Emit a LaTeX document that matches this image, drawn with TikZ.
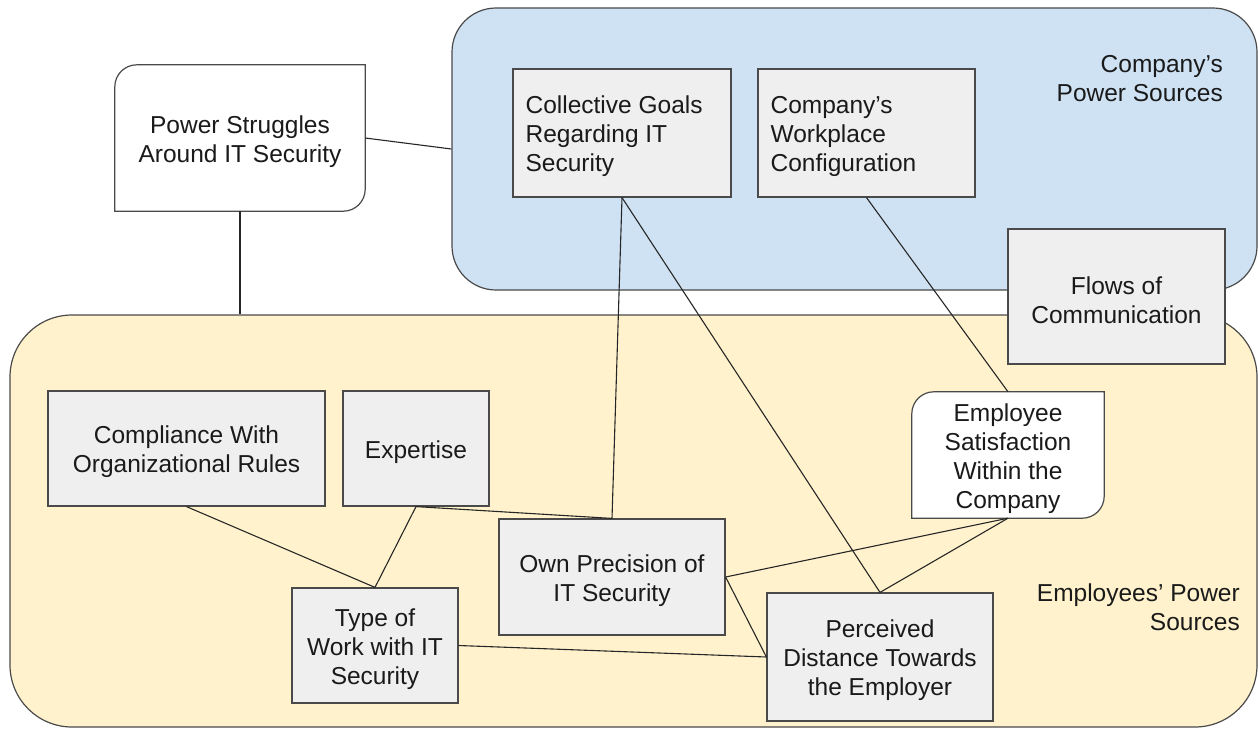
\documentclass[tikz,border=0pt]{standalone}
\usepackage{fontspec}
\setmainfont{Liberation Sans}
\definecolor{compblue}{HTML}{CFE2F3}
\definecolor{empyellow}{HTML}{FFF2CC}
\definecolor{boxgray}{HTML}{EFEFEF}
\definecolor{edgecol}{HTML}{4A4A4A}
\definecolor{txtcol}{HTML}{1A1A1A}
\pgfdeclarelayer{bg}
\pgfsetlayers{bg,main}
\newcommand\diagoutline[1]{\draw[edgecol, line width=1.2pt, fill=white] (#1.south west) -- ([yshift=-22pt]#1.north west) arc(180:90:22pt) -- (#1.north east) -- ([yshift=22pt]#1.south east) arc(0:-90:22pt) -- cycle;}
\begin{document}
\begin{tikzpicture}[x=1pt,y=-1pt,
  every node/.style={font=\fontsize{24.5}{29}\selectfont, text=txtcol},
  regionbox/.style={draw=edgecol, line width=1.2pt, inner sep=0pt},
  gbox/.style={draw=edgecol, fill=boxgray, line width=1.2pt, inner sep=0pt},
  wbox/.style={draw=none, inner sep=0pt},
  ctxt/.style={align=center, inner sep=0pt, yshift=-3.5pt},
  ltxt/.style={align=left, inner sep=0pt, anchor=west, yshift=-3pt},
  link/.style={draw=black!85, line width=1.1pt},
  lab/.style={align=right, anchor=east, inner sep=0pt}]
\useasboundingbox (0,0) rectangle (1258,731);
\begin{pgfonlayer}{bg}
  \fill[white] (0,0) rectangle (1258,731);
  \node[regionbox, fill=compblue, rounded corners=44pt, minimum width=805pt, minimum height=282pt] (company) at (854.5,149) {};
  \node[regionbox, fill=empyellow, rounded corners=62pt, minimum width=1247pt, minimum height=412pt] (employees) at (633.5,521) {};
\end{pgfonlayer}

% rounded-diagonal boxes
\node[wbox, minimum width=250pt, minimum height=146pt] (ps) at (240,138) {};
\node[wbox, minimum width=192pt, minimum height=126pt] (es) at (1008,455) {};
\begin{pgfonlayer}{bg}
  \diagoutline{ps}
  \diagoutline{es}
\end{pgfonlayer}
\node[ctxt] (pst) at (ps.center) {Power Struggles\\Around IT Security};
\node[ctxt] (est) at (es.center) {Employee\\Satisfaction\\Within the\\Company};

% company boxes
\node[gbox, minimum width=218pt, minimum height=128pt] (cg) at (622,133) {};
\node[ltxt] (cgt) at ([xshift=13pt]cg.west) {Collective Goals\\Regarding IT\\Security};
\node[gbox, minimum width=217pt, minimum height=128pt] (wp) at (866.5,133) {};
\node[ltxt] (wpt) at ([xshift=13pt]wp.west) {Company’s\\Workplace\\Configuration};
\node[gbox, minimum width=217pt, minimum height=135pt] (fc) at (1116.5,296.5) {};
\node[ctxt] (fct) at (fc.center) {Flows of\\Communication};

% employee boxes
\node[gbox, minimum width=277pt, minimum height=115pt] (cr) at (186.5,448.5) {};
\node[ctxt] (crt) at (cr.center) {Compliance With\\Organizational Rules};
\node[gbox, minimum width=146pt, minimum height=115pt] (ex) at (416,448.5) {};
\node[ctxt] (ext) at (ex.center) {Expertise};
\node[gbox, minimum width=166pt, minimum height=115pt] (tw) at (375,645.5) {};
\node[ctxt] (twt) at (tw.center) {Type of\\Work with IT\\Security};
\node[gbox, minimum width=226pt, minimum height=116pt] (op) at (612,577) {};
\node[ctxt] (opt) at (op.center) {Own Precision of\\IT Security};
\node[gbox, minimum width=226pt, minimum height=128pt] (pd) at (880,657) {};
\node[ctxt] (pdt) at (pd.center) {Perceived\\Distance Towards\\the Employer};

% labels
\node[lab] (cps) at (1223,79) {Company’s\\Power Sources};
\node[lab] (eps) at (1240,607) {Employees’ Power\\Sources};

% connectors
\draw[link] (ps.east) -- (company.west);
\draw[link] (ps.south) -- (ps.south |- employees.north);
\draw[link] (cg.south) -- (op.north);
\draw[link] (cg.south) -- (pd.north);
\draw[link] (wp.south) -- (es.north);
\draw[link] (cr.south) -- (tw.north);
\draw[link] (ex.south) -- (tw.north);
\draw[link] (ex.south) -- (op.north);
\draw[link] (op.east) -- (es.south);
\draw[link] (op.east) -- (pd.west);
\draw[link] (tw.east) -- (pd.west);
\draw[link] (es.south) -- (pd.north);
\end{tikzpicture}
\end{document}
